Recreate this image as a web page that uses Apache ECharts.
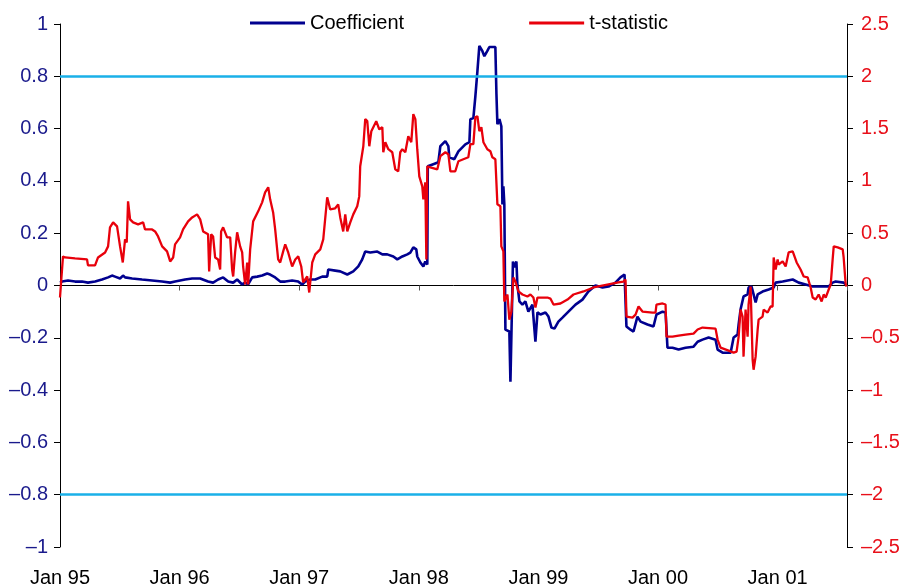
<!DOCTYPE html>
<html>
<head>
<meta charset="utf-8">
<script src="https://cdn.jsdelivr.net/npm/echarts@6/dist/echarts.min.js"></script>
<style>
  html, body { margin: 0; padding: 0; background: #fff; }
  #chart { width: 907px; height: 588px; }
</style>
</head>
<body>
<div id="chart"></div>
<script>
// time in decimal years
var coefTime = [1995.000,1995.017,1995.067,1995.126,1995.184,1995.234,1995.293,1995.351,1995.402,1995.435,1995.460,1995.502,1995.527,1995.544,1995.603,1995.686,1995.770,1995.854,1995.921,1995.962,
  1996.046,1996.105,1996.172,1996.238,1996.280,1996.322,1996.364,1996.406,1996.448,1996.481,1996.523,1996.548,1996.573,1996.607,1996.649,1996.690,1996.732,1996.757,1996.799,1996.841,1996.883,1996.941,1996.992,
  1997.025,1997.050,1997.092,1997.134,1997.192,1997.234,1997.243,1997.301,1997.343,1997.402,1997.452,1997.494,1997.527,1997.552,1997.594,1997.653,1997.695,1997.736,1997.787,1997.820,1997.862,1997.904,1997.929,1997.954,1997.979,1997.987,
  1998.013,1998.038,1998.054,1998.071,1998.075,1998.121,1998.163,1998.180,1998.222,1998.247,1998.255,1998.297,1998.331,1998.389,1998.423,1998.431,1998.456,1998.473,1998.490,1998.506,1998.531,1998.548,1998.573,1998.590,1998.640,1998.649,1998.657,1998.674,1998.690,1998.699,1998.707,1998.715,1998.724,1998.757,1998.766,1998.782,1998.787,1998.799,1998.816,1998.824,1998.841,1998.866,1998.891,1998.916,1998.950,1998.975,1998.992,
  1999.017,1999.059,1999.084,1999.109,1999.134,1999.167,1999.201,1999.251,1999.310,1999.368,1999.418,1999.477,1999.536,1999.586,1999.644,1999.686,1999.720,1999.736,1999.770,1999.795,1999.828,1999.854,1999.912,1999.962,1999.987,
  2000.038,2000.063,2000.079,2000.121,2000.172,2000.230,2000.297,2000.331,2000.372,2000.423,2000.481,2000.498,2000.540,2000.607,2000.632,2000.665,2000.674,2000.690,2000.715,2000.749,2000.757,2000.782,2000.799,2000.816,2000.833,2000.874,2000.925,2000.967,2000.983,
  2001.042,2001.126,2001.176,2001.234,2001.293,2001.377,2001.427,2001.460,2001.485,2001.552,2001.569];
var coefValues = [0.011,0.015,0.019,0.015,0.015,0.011,0.015,0.023,0.031,0.038,0.034,0.027,0.038,0.031,0.027,0.023,0.019,0.015,0.011,0.015,
  0.023,0.027,0.027,0.015,0.011,0.023,0.031,0.015,0.011,0.023,0.004,0.011,0.004,0.031,0.034,0.038,0.046,0.042,0.031,0.015,0.015,0.019,0.015,
  0.004,0.015,0.023,0.023,0.034,0.034,0.061,0.057,0.054,0.042,0.054,0.073,0.100,0.130,0.126,0.130,0.119,0.119,0.111,0.100,0.111,0.119,0.126,0.146,0.138,0.111,
  0.088,0.073,0.092,0.080,0.456,0.464,0.471,0.533,0.552,0.533,0.490,0.483,0.513,0.540,0.548,0.636,0.640,0.724,0.820,0.916,0.897,0.877,0.897,0.912,0.912,0.732,0.617,0.636,0.609,0.310,0.379,0.310,-0.169,-0.176,-0.368,-0.368,0.092,0.069,0.092,0.004,-0.061,-0.073,-0.061,-0.100,-0.073,-0.215,-0.103,
  -0.111,-0.103,-0.119,-0.161,-0.165,-0.138,-0.123,-0.100,-0.073,-0.054,-0.023,0.000,-0.008,-0.004,0.011,0.031,0.042,-0.157,-0.169,-0.176,-0.119,-0.138,-0.149,-0.157,-0.111,
  -0.100,-0.103,-0.238,-0.238,-0.245,-0.238,-0.234,-0.215,-0.207,-0.199,-0.207,-0.245,-0.257,-0.257,-0.199,-0.188,-0.149,-0.092,-0.042,-0.034,-0.008,-0.004,-0.034,-0.065,-0.034,-0.023,-0.015,-0.008,0.011,
  0.015,0.023,0.011,0.004,-0.004,-0.004,-0.004,0.011,0.015,0.011,0.004];

var tstatTime = [1995.000,1995.025,1995.042,1995.126,1995.226,1995.234,1995.293,1995.318,1995.377,1995.402,1995.418,1995.444,1995.477,1995.502,1995.525,1995.544,1995.558,1995.569,1995.586,1995.611,1995.653,1995.695,1995.711,1995.770,1995.795,1995.820,1995.854,1995.895,1995.921,1995.946,1995.962,
  1996.004,1996.029,1996.071,1996.105,1996.146,1996.172,1996.197,1996.238,1996.247,1996.264,1996.280,1996.297,1996.322,1996.339,1996.347,1996.364,1996.397,1996.423,1996.439,1996.448,1996.464,1996.481,1996.506,1996.523,1996.531,1996.548,1996.565,1996.573,1996.590,1996.615,1996.657,1996.690,1996.715,1996.741,1996.757,1996.782,1996.799,1996.824,1996.841,1996.866,1996.883,1996.908,1996.941,1996.967,1996.992,
  1997.017,1997.033,1997.067,1997.084,1997.109,1997.134,1997.176,1997.201,1997.234,1997.259,1997.301,1997.326,1997.343,1997.368,1997.385,1997.402,1997.427,1997.452,1997.485,1997.502,1997.510,1997.536,1997.552,1997.569,1997.586,1997.603,1997.619,1997.644,1997.669,1997.695,1997.703,1997.720,1997.745,1997.778,1997.803,1997.828,1997.845,1997.862,1997.887,1997.912,1997.937,1997.954,1997.971,1997.987,
  1998.004,1998.029,1998.038,1998.054,1998.063,1998.071,1998.096,1998.155,1998.180,1998.222,1998.247,1998.264,1998.305,1998.331,1998.372,1998.414,1998.431,1998.456,1998.473,1998.490,1998.506,1998.523,1998.540,1998.573,1998.598,1998.615,1998.640,1998.657,1998.682,1998.690,1998.707,1998.715,1998.741,1998.757,1998.774,1998.791,1998.808,1998.833,1998.866,1998.908,1998.933,1998.958,1998.975,1998.992,
  1999.075,1999.100,1999.126,1999.184,1999.243,1999.293,1999.377,1999.460,1999.586,1999.669,1999.711,1999.728,1999.736,1999.787,1999.812,1999.837,1999.870,1999.954,1999.979,1999.987,
  2000.038,2000.063,2000.071,2000.121,2000.172,2000.230,2000.297,2000.331,2000.372,2000.481,2000.498,2000.523,2000.590,2000.632,2000.657,2000.674,2000.690,2000.707,2000.715,2000.732,2000.749,2000.757,2000.774,2000.791,2000.799,2000.816,2000.833,2000.841,2000.874,2000.883,2000.916,2000.941,2000.958,2000.967,2000.983,
  2001.000,2001.008,2001.042,2001.067,2001.092,2001.126,2001.142,2001.159,2001.192,2001.218,2001.251,2001.276,2001.293,2001.318,2001.343,2001.368,2001.385,2001.402,2001.427,2001.444,2001.460,2001.469,2001.502,2001.544,2001.552,2001.569,2001.577];
var tstatValues = [-0.115,0.278,0.268,0.259,0.249,0.192,0.192,0.268,0.316,0.374,0.556,0.603,0.565,0.374,0.220,0.441,0.412,0.805,0.632,0.603,0.584,0.603,0.536,0.536,0.517,0.469,0.374,0.326,0.230,0.268,0.393,
  0.460,0.536,0.613,0.651,0.680,0.632,0.517,0.489,0.134,0.489,0.469,0.268,0.249,0.153,0.517,0.556,0.460,0.460,0.153,0.086,0.316,0.508,0.374,0.316,0.182,0.010,0.220,0.010,0.345,0.613,0.709,0.795,0.891,0.939,0.824,0.699,0.536,0.249,0.220,0.326,0.393,0.316,0.182,0.249,0.278,
  0.182,0.029,0.086,-0.067,0.220,0.297,0.345,0.441,0.843,0.728,0.738,0.776,0.651,0.517,0.680,0.517,0.603,0.680,0.757,0.852,1.140,1.331,1.590,1.571,1.331,1.475,1.466,1.571,1.494,1.513,1.274,1.370,1.303,1.274,1.111,1.092,1.274,1.303,1.274,1.427,1.370,1.638,1.590,1.303,
  1.044,0.948,0.824,0.987,0.249,1.140,1.130,1.111,1.236,1.274,1.255,1.092,1.092,1.188,1.207,1.226,1.351,1.351,1.609,1.619,1.475,1.513,1.370,1.303,1.284,1.226,1.207,0.776,0.757,0.374,0.326,-0.153,-0.086,-0.326,-0.249,0.077,0.038,-0.057,-0.086,-0.105,-0.086,-0.115,-0.211,-0.115,
  -0.115,-0.125,-0.182,-0.172,-0.134,-0.086,-0.057,-0.019,0.010,0.029,0.038,0.057,-0.297,-0.307,-0.278,-0.201,-0.249,-0.259,-0.259,-0.182,
  -0.172,-0.182,-0.489,-0.489,-0.479,-0.469,-0.460,-0.421,-0.402,-0.412,-0.517,-0.594,-0.623,-0.642,-0.632,-0.489,-0.230,-0.297,-0.680,-0.230,-0.489,-0.182,-0.010,-0.709,-0.805,-0.680,-0.421,-0.326,-0.297,-0.230,-0.259,-0.201,-0.201,0.268,0.153,
  0.249,0.201,0.230,0.182,0.316,0.326,0.316,0.220,0.153,0.086,0.077,-0.019,-0.115,-0.134,-0.086,-0.153,-0.086,-0.115,-0.038,0.010,0.249,0.374,0.364,0.345,0.268,0.010,-0.010];

var seriesNames = ['Coefficient', 't-statistic'];
var bandLines = [0.8, -0.8]; // +-2 on the t-statistic scale

function pairs(xs, ys) {
  return xs.map(function (x, i) { return [x, ys[i]] })
}
function minus(v) {
  return String(v).replace('-', '\u2013')
}

var font = '"Liberation Sans", Arial, sans-serif'
var chart = echarts.init(document.getElementById('chart'))

var option = {
  animation: false,
  backgroundColor: '#fff',
  textStyle: { fontFamily: font },
  grid: { left: 60, right: 60, top: 24, bottom: 41 },
  legend: {
    data: seriesNames,
    left: 245,
    top: 8,
    icon: 'rect',
    itemWidth: 55,
    itemHeight: 3,
    itemGap: 125,
    textStyle: { fontSize: 20, color: '#000', fontFamily: font }
  },
  xAxis: [
    {
      // labels along the bottom
      type: 'value',
      min: 1995,
      max: 2001.58,
      interval: 1,
      position: 'bottom',
      axisLine: { show: false, onZero: false },
      axisTick: { show: false },
      splitLine: { show: false },
      axisLabel: {
        margin: 21,
        fontSize: 20,
        color: '#000',
        showMaxLabel: false,
        formatter: function (v) {
          return Number.isInteger(v) ? 'Jan ' + String(v).slice(2) : ''
        }
      }
    },
    {
      // the zero line with year ticks
      type: 'value',
      min: 1995,
      max: 2001.58,
      interval: 1,
      position: 'top',
      axisLine: { show: true, onZero: true, onZeroAxisIndex: 0, lineStyle: { color: '#000', width: 1 } },
      axisTick: { show: true, inside: true, length: 5, lineStyle: { color: '#555' } },
      axisLabel: { show: false },
      splitLine: { show: false }
    }
  ],
  yAxis: [
    {
      type: 'value',
      min: -1,
      max: 1,
      interval: 0.2,
      axisLine: { show: true, onZero: false, lineStyle: { color: '#000' } },
      axisTick: { show: true, length: 6, lineStyle: { color: '#000' } },
      splitLine: { show: false },
      axisLabel: { margin: 12, fontSize: 20, color: '#1a1a8c', formatter: minus }
    },
    {
      type: 'value',
      min: -2.5,
      max: 2.5,
      interval: 0.5,
      position: 'right',
      axisLine: { show: true, onZero: false, lineStyle: { color: '#000' } },
      axisTick: { show: true, length: 6, lineStyle: { color: '#000' } },
      splitLine: { show: false },
      axisLabel: { margin: 14, fontSize: 20, color: '#e8101a', formatter: minus }
    }
  ],
  series: [
    {
      name: seriesNames[0],
      type: 'line',
      xAxisIndex: 0,
      yAxisIndex: 0,
      showSymbol: false,
      data: pairs(coefTime, coefValues),
      itemStyle: { color: '#00008f' },
      lineStyle: { color: '#00008f', width: 2.6 },
      markLine: {
        silent: true,
        symbol: 'none',
        label: { show: false },
        lineStyle: { color: '#1ab0e8', width: 2.5, type: 'solid' },
        data: bandLines.map(function (v) { return { yAxis: v } })
      },
      z: 3
    },
    {
      name: seriesNames[1],
      type: 'line',
      xAxisIndex: 0,
      yAxisIndex: 1,
      showSymbol: false,
      data: pairs(tstatTime, tstatValues),
      itemStyle: { color: '#e8000b' },
      lineStyle: { color: '#e8000b', width: 2.3 },
      z: 4
    }
  ]
}

chart.setOption(option)
</script>
</body>
</html>
